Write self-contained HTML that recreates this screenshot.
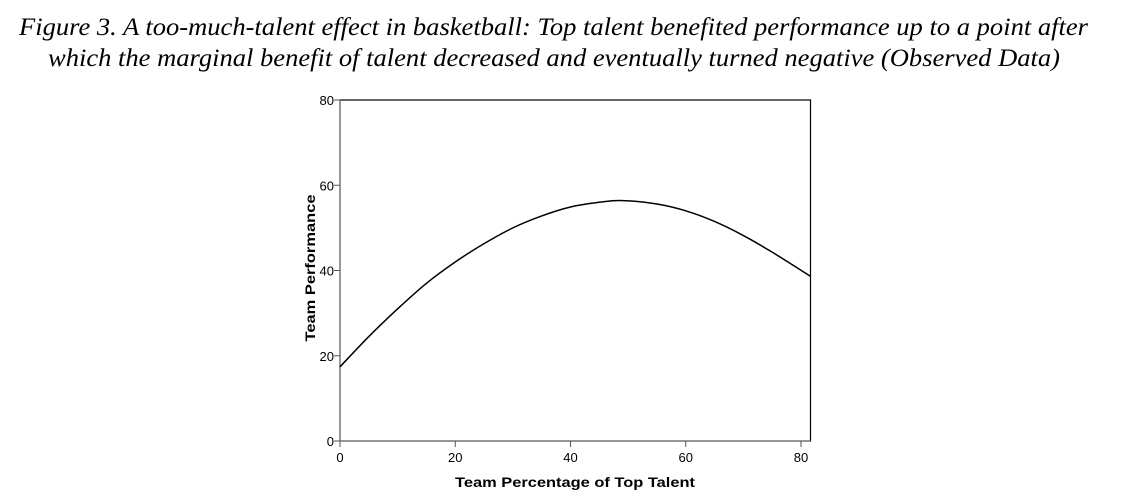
<!DOCTYPE html>
<html><head><meta charset="utf-8">
<style>
html,body{margin:0;padding:0;background:#fff;width:1128px;height:504px;overflow:hidden}
svg{display:block}
</style></head>
<body>
<svg id="chart" width="1128" height="504" xmlns="http://www.w3.org/2000/svg">
<text x="19" y="35" font-family="Liberation Serif, serif" font-style="italic" font-size="25" textLength="1069" lengthAdjust="spacingAndGlyphs">Figure 3. A too-much-talent effect in basketball: Top talent benefited performance up to a point after</text>
<text x="48" y="66" font-family="Liberation Serif, serif" font-style="italic" font-size="25" textLength="1012" lengthAdjust="spacingAndGlyphs">which the marginal benefit of talent decreased and eventually turned negative (Observed Data)</text>
<rect x="340" y="100" width="470.5" height="341" fill="none" stroke="#000" stroke-width="1.2"/>
<line x1="340" y1="100" x2="340" y2="441" stroke="#777" stroke-width="1.2"/>
<line x1="340" y1="441" x2="810.5" y2="441" stroke="#777" stroke-width="1.2"/>
<g id="ticks"></g>
<path id="curve" fill="none" stroke="#000" stroke-width="1.5"/>
<text x="575" y="487" text-anchor="middle" font-family="Liberation Sans, sans-serif" font-weight="bold" font-size="14" textLength="240" lengthAdjust="spacingAndGlyphs">Team Percentage of Top Talent</text>
<text transform="translate(315,268) rotate(-90)" text-anchor="middle" font-family="Liberation Sans, sans-serif" font-weight="bold" font-size="14" textLength="147" lengthAdjust="spacingAndGlyphs">Team Performance</text>
</svg>
<script>
const xTicks = [0, 20, 40, 60, 80];
const yTicks = [0, 20, 40, 60, 80];
const curveX = [0, 5, 10, 15, 20, 25, 30, 35, 40, 45, 49, 55, 60, 65, 70, 75, 81.7];
const curveY = [17.4, 24.5, 31, 37, 42, 46.3, 50, 52.8, 54.9, 56, 56.4, 55.6, 54, 51.5, 48.2, 44.3, 38.6];

const X0 = 340, XS = 115.25/20;
const Y0 = 441, YS = 341/80;
function sx(v){ return X0 + v*XS; }
function sy(v){ return Y0 - v*YS; }
const NS = 'http://www.w3.org/2000/svg';
const g = document.getElementById('ticks');

xTicks.forEach(function(t){
  const l = document.createElementNS(NS,'line');
  
  
  l.setAttribute('x1', sx(t)); l.setAttribute('x2', sx(t));
  l.setAttribute('y1', 441); l.setAttribute('y2', 447);
  l.setAttribute('stroke', '#555');
  g.appendChild(l);
  const tx = document.createElementNS(NS,'text');
  
  
  tx.setAttribute('x', sx(t)); tx.setAttribute('y', 462);
  tx.setAttribute('text-anchor', 'middle');
  tx.setAttribute('font-family', 'Liberation Sans, sans-serif');
  tx.setAttribute('font-size', '13');
  tx.textContent = t;
  g.appendChild(tx);
});
yTicks.forEach(function(t){
  const l = document.createElementNS(NS,'line');
  
  
  l.setAttribute('x1', 334); l.setAttribute('x2', 340);
  l.setAttribute('y1', sy(t)); l.setAttribute('y2', sy(t));
  l.setAttribute('stroke', '#555');
  g.appendChild(l);
  const tx = document.createElementNS(NS,'text');
  
  
  tx.setAttribute('x', 334); tx.setAttribute('y', sy(t)+5);
  tx.setAttribute('text-anchor', 'end');
  tx.setAttribute('font-family', 'Liberation Sans, sans-serif');
  tx.setAttribute('font-size', '13');
  tx.textContent = t;
  g.appendChild(tx);
});

const pts = curveX.map(function(v,i){ return [sx(v), sy(curveY[i])]; });
let d = 'M' + pts[0][0] + ',' + pts[0][1];
for (let i = 0; i < pts.length-1; i++){
  const p0 = pts[Math.max(0,i-1)], p1 = pts[i], p2 = pts[i+1], p3 = pts[Math.min(pts.length-1,i+2)];
  const c1x = p1[0] + (p2[0]-p0[0])/6, c1y = p1[1] + (p2[1]-p0[1])/6;
  const c2x = p2[0] - (p3[0]-p1[0])/6, c2y = p2[1] - (p3[1]-p1[1])/6;
  d += ' C' + c1x + ',' + c1y + ' ' + c2x + ',' + c2y + ' ' + p2[0] + ',' + p2[1];
}
document.getElementById('curve').setAttribute('d', d);
</script>
</body></html>
